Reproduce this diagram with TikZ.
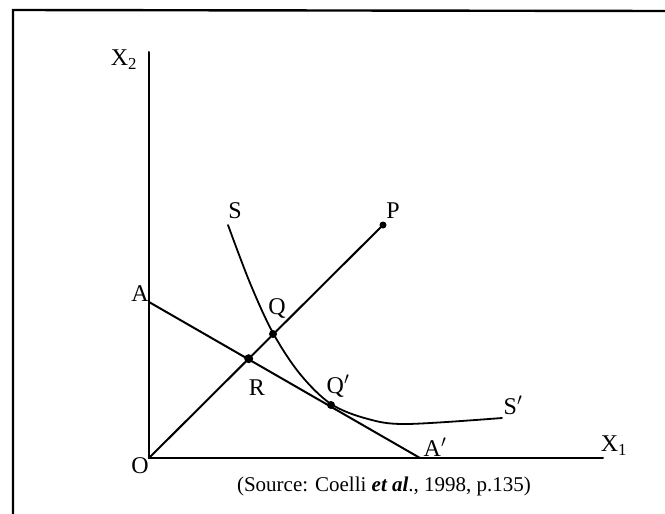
\documentclass[tikz,border=0pt]{standalone}
\usepackage{fontspec}
\setmainfont{Liberation Serif}
\begin{document}
\begin{tikzpicture}[x=1pt,y=-1pt,
  ln/.style={line width=2pt,line cap=round},
  lbl/.style={font=\fontsize{24}{26}\selectfont,inner sep=0pt},
  dotmark/.style={circle,fill=black,inner sep=0pt,minimum size=#1}]
\useasboundingbox (0,0) rectangle (665,514);
% frame
\coordinate (F1) at (13,514);
\coordinate (F2) at (13,10);
\coordinate (F3) at (665,11);
\draw[line width=2.4pt] (F1) -- (F2) -- (F3);
% points
\coordinate (O) at (149,458);
\coordinate (Ytop) at (149,52);
\coordinate (Xend) at (603,458);
\coordinate (A) at (149,302);
\coordinate (Ap) at (420,458);
\coordinate (Pp) at (383,225);
% axes
\draw[ln] (Ytop) -- (O) -- (Xend);
% lines
\draw[ln] (A) -- (Ap);
\draw[ln] (O) -- (Pp);
% isoquant
\draw[ln,line width=1.8pt] plot[smooth,tension=0.55] coordinates
  {(228,225) (250,283) (273,333) (300,374) (331,404) (368,419) (407,424) (502,418)};
% dots
\node[dotmark=9pt] (R) at (248.7,358.7) {};
\node[dotmark=8pt] (Q) at (273,334) {};
\node[dotmark=8pt] (Qp) at (331,405) {};
\node[dotmark=7pt] (P) at (Pp) {};
% labels
\node[lbl] (lX2) at (124,60) {X\textsubscript{2}};
\node[lbl] (lX1) at (614,446) {X\textsubscript{1}};
\node[lbl] (lO) at (140,466) {O};
\node[lbl] (lA) at (140,294) {A};
\node[lbl] (lAp) at (435,447) {A$'$};
\node[lbl] (lR) at (257,388) {R};
\node[lbl] (lQ) at (277,308) {Q};
\node[lbl] (lP) at (393,211) {P};
\node[lbl] (lS) at (235,211) {S};
\node[lbl] (lQp) at (338,386) {Q$'$};
\node[lbl] (lSp) at (513,405) {S$'$};
\node[inner sep=0pt,font=\fontsize{21}{24}\selectfont] (cap) at (384,486)
  {(Source: Coelli \textbf{\textit{et al}}., 1998, p.135)};
\end{tikzpicture}
\end{document}
